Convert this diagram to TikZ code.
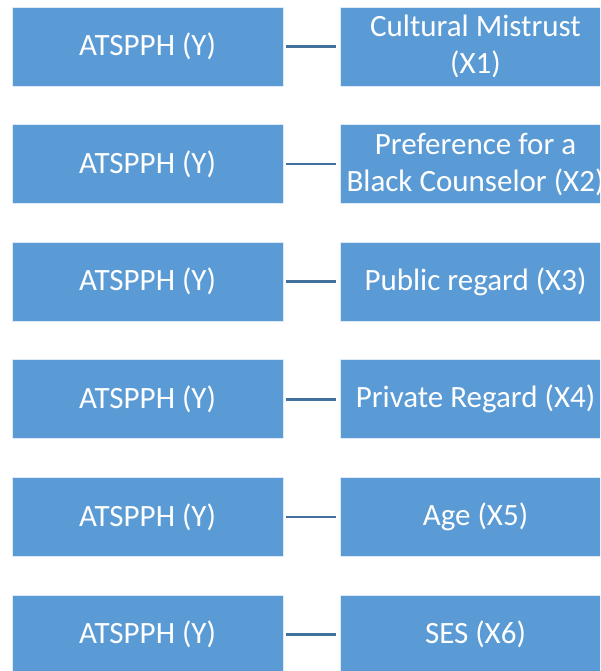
\documentclass[tikz,border=0pt]{standalone}
\usepackage{fontspec}
\setmainfont{Carlito}
\usepackage{xcolor}
\usetikzlibrary{positioning}
\definecolor{boxblue}{HTML}{5B9BD5}
\definecolor{linkblue}{HTML}{41719C}
\tikzset{
  % Regression boxes
  var-box/.style={rectangle, fill=boxblue, draw=white!80!boxblue, line width=0.8pt, text=white,
    minimum width=271pt, minimum height=79pt, inner sep=0pt, outer sep=0pt, align=center,
    font=\fontsize{31}{37}\selectfont},
  var-link/.style={draw=linkblue, line width=2.5pt, shorten <=3pt, shorten >=4pt}
}
\begin{document}
\begin{tikzpicture}[x=1pt, y=1pt, node distance=38.6pt and 57pt]
    \clip (0,0) rectangle (600,-671);
    % Outcome (left column)
    \node[var-box] (y1) at (147.5,-46.5) {ATSPPH (Y)};
    \node[var-box, below=of y1] (y2) {ATSPPH (Y)};
    \node[var-box, below=of y2] (y3) {ATSPPH (Y)};
    \node[var-box, below=of y3] (y4) {ATSPPH (Y)};
    \node[var-box, below=of y4] (y5) {ATSPPH (Y)};
    \node[var-box, below=of y5] (y6) {ATSPPH (Y)};
    % Predictors (right column)
    \node[var-box, right=of y1] (x1) {Cultural Mistrust\\(X1)};
    \node[var-box, right=of y2] (x2) {Preference for a\\Black Counselor (X2)};
    \node[var-box, right=of y3] (x3) {Public regard (X3)};
    \node[var-box, right=of y4] (x4) {Private Regard (X4)};
    \node[var-box, right=of y5] (x5) {Age (X5)};
    \node[var-box, right=of y6] (x6) {SES (X6)};
    % Links
    \draw[var-link] (y1) -- (x1);
    \draw[var-link] (y2) -- (x2);
    \draw[var-link] (y3) -- (x3);
    \draw[var-link] (y4) -- (x4);
    \draw[var-link] (y5) -- (x5);
    \draw[var-link] (y6) -- (x6);
\end{tikzpicture}
\end{document}
